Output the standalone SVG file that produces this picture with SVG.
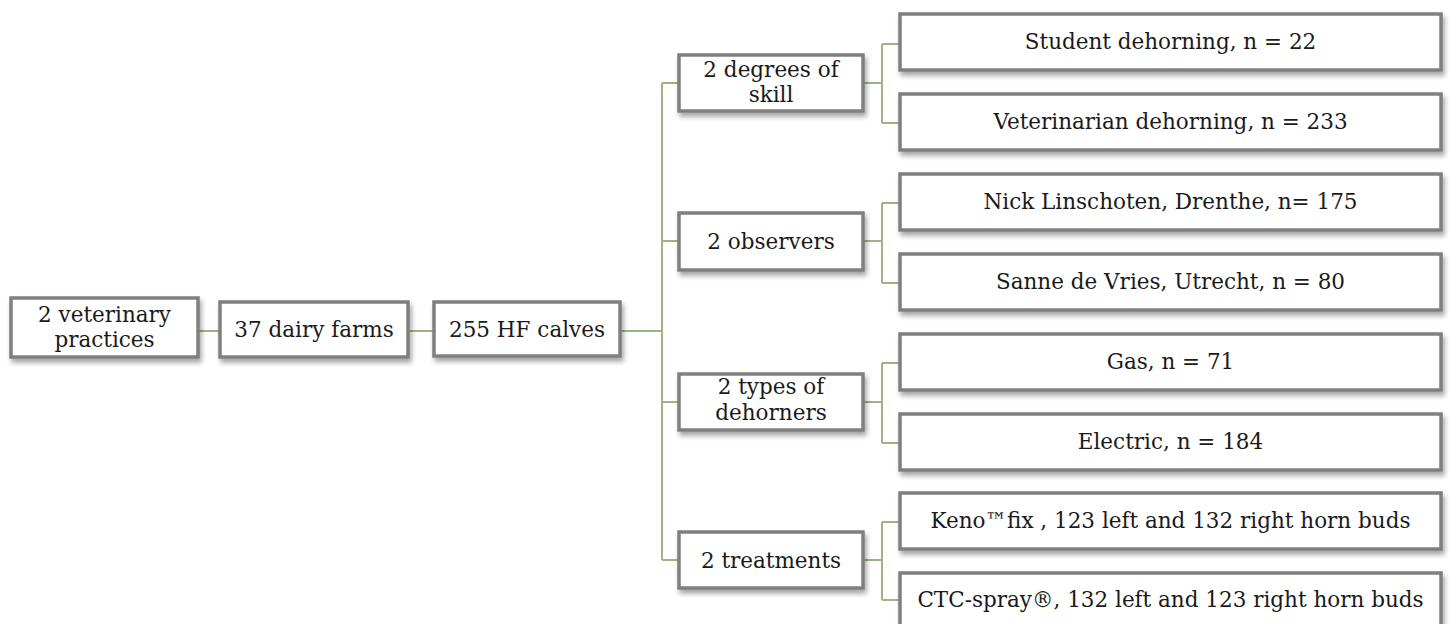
<svg xmlns="http://www.w3.org/2000/svg" width="1450" height="624" viewBox="0 0 1450 624">
<defs>
<filter id="sh" x="-10%" y="-20%" width="125%" height="160%">
<feDropShadow dx="2" dy="4" stdDeviation="2.5" flood-color="#000" flood-opacity="0.35"/>
</filter>
<style>
.box{fill:#fff;stroke:#7f7f7f;stroke-width:3.5;filter:url(#sh)}
.t{font-family:"DejaVu Serif","Liberation Serif",serif;font-size:21.5px;fill:#1a1a1a;text-anchor:middle}
.c{fill:none;stroke:#9fb482;stroke-width:2}
</style>
</defs>
<rect width="1450" height="624" fill="#fff"/>
<g id="connectors">
<path class="c" d="M198 331H219M408 331H433M620 331H662M662 83V560M662 83H678M662 241H678M662 402H678M662 560H678"/>
<path class="c" d="M863 83H882M882 44V123M882 44H900M882 123H900"/>
<path class="c" d="M863 241H882M882 203V283M882 203H900M882 283H900"/>
<path class="c" d="M863 402H882M882 363V443M882 363H900M882 443H900"/>
<path class="c" d="M863 560H882M882 522V600M882 522H900M882 600H900"/>
</g>
<g id="n-practices"><rect class="box" x="11" y="298" width="187" height="59"/><text class="t" x="104.5" y="322">2 veterinary</text><text class="t" x="104.5" y="347">practices</text></g>
<g id="n-farms"><rect class="box" x="220" y="302" width="188" height="55"/><text class="t" x="314" y="337">37 dairy farms</text></g>
<g id="n-calves"><rect class="box" x="434" y="302" width="186" height="54"/><text class="t" x="527" y="337">255 HF calves</text></g>
<g id="n-skill"><rect class="box" x="679" y="55" width="184" height="56"/><text class="t" x="771" y="77">2 degrees of</text><text class="t" x="771" y="102">skill</text></g>
<g id="n-observers"><rect class="box" x="679" y="213" width="184" height="57"/><text class="t" x="771" y="249">2 observers</text></g>
<g id="n-dehorners"><rect class="box" x="679" y="374" width="184" height="56"/><text class="t" x="771" y="394">2 types of</text><text class="t" x="771" y="420">dehorners</text></g>
<g id="n-treatments"><rect class="box" x="679" y="532" width="184" height="56"/><text class="t" x="771" y="568">2 treatments</text></g>
<g id="n-student"><rect class="box" x="900" y="14" width="541" height="56"/><text class="t" x="1170.5" y="49">Student dehorning, n = 22</text></g>
<g id="n-vet"><rect class="box" x="900" y="94" width="541" height="56"/><text class="t" x="1170.5" y="129">Veterinarian dehorning, n = 233</text></g>
<g id="n-nick"><rect class="box" x="900" y="174" width="541" height="56"/><text class="t" x="1170.5" y="209">Nick Linschoten, Drenthe, n= 175</text></g>
<g id="n-sanne"><rect class="box" x="900" y="254" width="541" height="56"/><text class="t" x="1170.5" y="289">Sanne de Vries, Utrecht, n = 80</text></g>
<g id="n-gas"><rect class="box" x="900" y="334" width="541" height="56"/><text class="t" x="1170.5" y="369">Gas, n = 71</text></g>
<g id="n-electric"><rect class="box" x="900" y="414" width="541" height="56"/><text class="t" x="1170.5" y="449">Electric, n = 184</text></g>
<g id="n-keno"><rect class="box" x="900" y="493" width="541" height="56"/><text class="t" x="1170.5" y="528">Keno™fix , 123 left and 132 right horn buds</text></g>
<g id="n-ctc"><rect class="box" x="900" y="573" width="541" height="56"/><text class="t" x="1170.5" y="607">CTC-spray®, 132 left and 123 right horn buds</text></g>
</svg>
